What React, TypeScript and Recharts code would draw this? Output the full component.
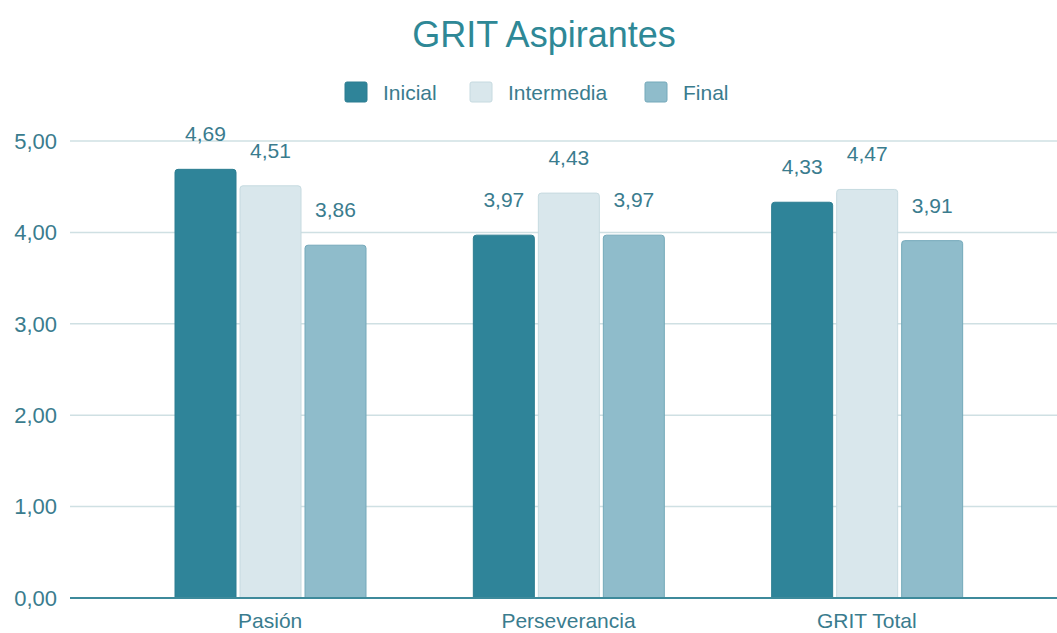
import React from "react";
import { BarChart, Bar, XAxis, YAxis, CartesianGrid, Legend, LabelList } from "recharts";

const categories = ["Pasión", "Perseverancia", "GRIT Total"];
const inicial = [4.69, 3.97, 4.33];
const intermedia = [4.51, 4.43, 4.47];
const finalValues = [3.86, 3.97, 3.91];
const yTicks = [0, 1, 2, 3, 4, 5];
const title = "GRIT Aspirantes";
const seriesNames = ["Inicial", "Intermedia", "Final"];

const data = categories.map((c, i) => ({
  name: c,
  inicial: inicial[i],
  intermedia: intermedia[i],
  final: finalValues[i],
}));

const FONT = "'Liberation Sans', Arial, sans-serif";
const TEXT = "#3a7c8e";
const COLORS = { inicial: "#2f8499", intermedia: "#d9e7ec", final: "#8fbccb" };
const STROKES = { inicial: "#2c7d91", intermedia: "#c6dae0", final: "#74a9ba" };

const fmt = (v: number) => v.toFixed(2).replace(".", ",");

const legendItems = [
  { name: seriesNames[0], fill: COLORS.inicial, stroke: STROKES.inicial, x: 345 },
  { name: seriesNames[1], fill: COLORS.intermedia, stroke: STROKES.intermedia, x: 470 },
  { name: seriesNames[2], fill: COLORS.final, stroke: STROKES.final, x: 645 },
];

const HeaderContent = () => (
  <svg width={1057} height={141} style={{ display: "block" }}>
    <text x={544} y={47} textAnchor="middle" fontFamily={FONT} fontSize={36} fill="#2e8896">
      {title}
    </text>
    {legendItems.map((it) => (
      <g key={it.name}>
        <rect x={it.x} y={82} width={22} height={20} rx={2} fill={it.fill} stroke={it.stroke} strokeWidth={1} />
        <text x={it.x + 38} y={100} fontFamily={FONT} fontSize={21} fill={TEXT}>
          {it.name}
        </text>
      </g>
    ))}
  </svg>
);

export default function App() {
  return (
    <div style={{ position: "absolute", left: 0, top: 0, width: 1057, height: 633, background: "#fff" }}>
      <BarChart
        width={1057}
        height={633}
        data={data}
        margin={{ top: 0, right: 0, bottom: 5, left: 0 }}
        barSize={61}
        barGap={4}
      >
        <Legend verticalAlign="top" content={() => <HeaderContent />} wrapperStyle={{ left: 0, top: 0, width: 1057, height: 141 }} />
        <CartesianGrid vertical={false} stroke="#cfe0e3" strokeWidth={1.5} />
        <XAxis
          dataKey="name"
          padding={{ left: 51, right: 41 }}
          tickLine={false}
          tickSize={0}
          tickMargin={15}
          height={30}
          axisLine={{ stroke: "#3e8a9b", strokeWidth: 2 }}
          tick={{ fill: TEXT, fontSize: 21, fontFamily: FONT }}
        />
        <YAxis
          domain={[0, 5]}
          ticks={yTicks}
          width={70}
          axisLine={false}
          tickLine={false}
          tickSize={0}
          tickMargin={13}
          tickFormatter={fmt}
          tick={{ fill: TEXT, fontSize: 22, fontFamily: FONT }}
        />
        <Bar dataKey="inicial" name={seriesNames[0]} fill={COLORS.inicial} stroke={STROKES.inicial} radius={[3, 3, 0, 0]} isAnimationActive={false}>
          <LabelList dataKey="inicial" position="top" offset={28} formatter={fmt} fill={TEXT} fontSize={21} fontFamily={FONT} />
        </Bar>
        <Bar dataKey="intermedia" name={seriesNames[1]} fill={COLORS.intermedia} stroke={STROKES.intermedia} radius={[3, 3, 0, 0]} isAnimationActive={false}>
          <LabelList dataKey="intermedia" position="top" offset={28} formatter={fmt} fill={TEXT} fontSize={21} fontFamily={FONT} />
        </Bar>
        <Bar dataKey="final" name={seriesNames[2]} fill={COLORS.final} stroke={STROKES.final} radius={[3, 3, 0, 0]} isAnimationActive={false}>
          <LabelList dataKey="final" position="top" offset={28} formatter={fmt} fill={TEXT} fontSize={21} fontFamily={FONT} />
        </Bar>
      </BarChart>
    </div>
  );
}
